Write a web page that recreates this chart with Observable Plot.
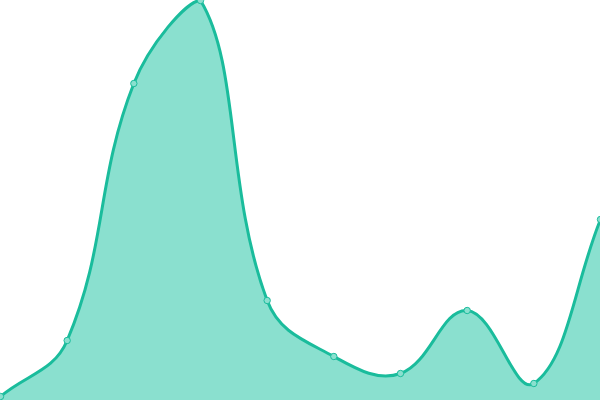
<!DOCTYPE html>
<html><head><meta charset="utf-8">
<script src="https://cdn.jsdelivr.net/npm/d3@7"></script>
<script src="https://cdn.jsdelivr.net/npm/@observablehq/plot@0.6"></script>
<style>html,body{margin:0;padding:0;background:#fff;overflow:hidden}</style>
</head><body><div id="chart"></div>
<script>
const xs = [0, 1, 2, 3, 4, 5, 6, 7, 8, 9];
const values = [4, 60, 317, 400, 100, 44, 27, 90, 17, 181];
const data = xs.map((x, i) => ({x, v: values[i]}));
const teal = "#1abc9c";
const W = 600, H = 400;

// Tension spline (distance-weighted), with control points capped to the plot area
function tensionCurve(tension) {
  return function(context) {
    let line, pts;
    const cx = (v) => Math.max(0, Math.min(W, v));
    const cy = (v) => Math.max(0, Math.min(H, v));
    return {
      areaStart() { line = 0; },
      areaEnd() { line = NaN; },
      lineStart() { pts = []; },
      point(x, y) { pts.push([+x, +y]); },
      lineEnd() {
        const n = pts.length;
        if (n) {
          if (line) context.lineTo(pts[0][0], pts[0][1]);
          else context.moveTo(pts[0][0], pts[0][1]);
          const cps = pts.map((p, i) => {
            const a = pts[Math.max(0, i - 1)], b = pts[Math.min(n - 1, i + 1)];
            const d01 = Math.hypot(p[0] - a[0], p[1] - a[1]);
            const d12 = Math.hypot(b[0] - p[0], b[1] - p[1]);
            let s01 = d01 / (d01 + d12), s12 = d12 / (d01 + d12);
            if (!isFinite(s01)) s01 = 0;
            if (!isFinite(s12)) s12 = 0;
            const fa = tension * s01, fb = tension * s12;
            return {
              p: [cx(p[0] - fa * (b[0] - a[0])), cy(p[1] - fa * (b[1] - a[1]))],
              n: [cx(p[0] + fb * (b[0] - a[0])), cy(p[1] + fb * (b[1] - a[1]))]
            };
          });
          for (let i = 1; i < n; i++) {
            context.bezierCurveTo(cps[i - 1].n[0], cps[i - 1].n[1], cps[i].p[0], cps[i].p[1], pts[i][0], pts[i][1]);
          }
        }
        if (line || (line !== 0 && n === 1)) context.closePath();
        line = 1 - line;
      }
    };
  };
}
const curve = tensionCurve(0.4);

const plot = Plot.plot({
  width: W, height: H,
  margin: 0,
  x: {domain: [0, 9], axis: null},
  y: {domain: [0, 400], axis: null},
  marks: [
    Plot.areaY(data, {x: "x", y: "v", curve, fill: "#8ae0cf"}),
    Plot.lineY(data, {x: "x", y: "v", curve, stroke: teal, strokeWidth: 3}),
    Plot.dot(data, {x: "x", y: "v", r: 3.2, fill: "#8ae0cf", stroke: teal, strokeWidth: 1})
  ]
});
document.getElementById("chart").appendChild(plot);
</script></body></html>
